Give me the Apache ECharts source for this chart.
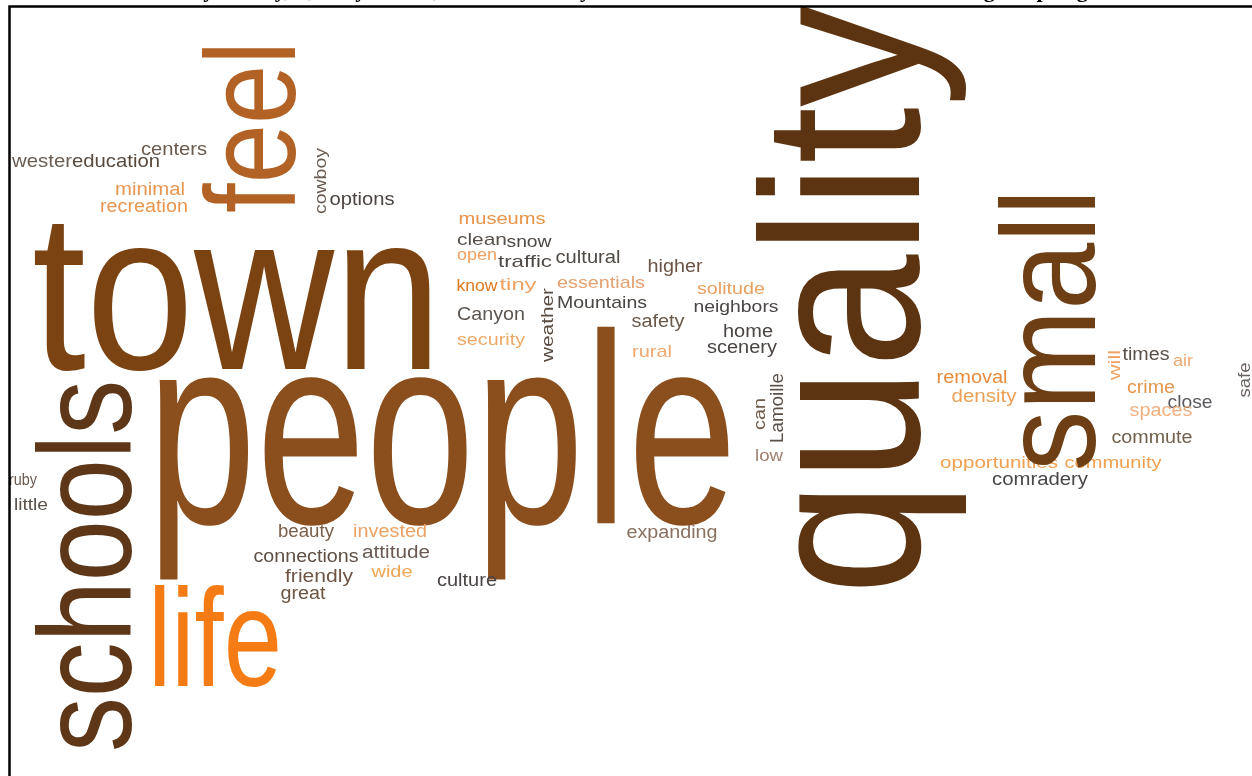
<!DOCTYPE html>
<html><head><meta charset="utf-8">
<script src="https://cdn.jsdelivr.net/npm/echarts@6/dist/echarts.min.js"></script>
<style>html,body{margin:0;padding:0;background:#fff}#c{width:1252px;height:776px}</style>
</head><body><div id="c"></div>
<script>
// ---- data: words and their weights (font size) ----
const words = ['town','people','life','wester','education','centers','minimal','recreation','options','museums',
  'clean','snow','open','traffic','cultural','know','tiny','essentials','higher','solitude',
  'Mountains','Canyon','neighbors','safety','home','security','rural','scenery','low','removal',
  'density','times','air','crime','close','spaces','commute','opportunities','community','comradery',
  'expanding','ruby','little','beauty','invested','connections','attitude','friendly','wide','culture','great',
  'quality','small','schools','feel','cowboy','weather','can','Lamoille','will','safe'];
const weights = [225,271,140,19,19,19,18,18,18,17,
  17,17,17,17,18,17,17,17,18,17,
  17,19,17,18,18,17,17,18,17,18,
  18,18,17,18,19,18,18,17,17,18,
  18,17,17,18,18,18,18,18,17,18,18,
  225,134,132,128,17,17,17,18,16,17];

// ---- layout of the cloud (word anchor = centre along the text, on the baseline) ----
const posX = [237,442,215,42,116,174,150,144,362,502,
  482,529,477,525,588,477,518,601,675,731,
  602,491,736,658,748,491,652,742,769,972,
  984,1146,1183,1151,1190,1161,1152,999,1113,1040,
  672,23,31,306,390,306,396,319,392,467,303,
  922,1097,133,297,326,553,765,783,1120,1250];
const posY = [372,527,688,167,167,155,195,212,205,224,
  245,247,260,267,263,291,290,288,272,294,
  308,320,312,327,337,345,357,353,461,383,
  402,360,366,393,408,416,443,468,468,485,
  538,485,510,537,537,562,558,582,577,586,599,
  300,330,566,127,181,325,414,408,365,380];
const spans = [410,590,134,60,88,66,70,88,65,87,
  50,45,40,54,65,41,37,88,55,68,
  90,68,85,53,50,68,40,70,28,71,
  65,47,20,48,45,63,81,118,97,96,
  91,28,34,56,74,105,68,68,41,60,45,
  590,282,372,172,66,74,32,70,30,35];
const vertical = words.map((w,i)=> i >= 51);
const colors = ['#7b4311','#8b4f1e','#f57c14','#6b5d52','#5a4a3e','#6b5a4c','#e8954f','#e8954f','#4c4440','#e8934a',
  '#575049','#4e4844','#f0a060','#4e4844','#4f4a44','#e07820','#f0a060','#e6a070','#6b5445','#e8a060',
  '#4a4642','#5d5650','#4a4645','#6a5848','#4a4442','#eda868','#f0a870','#4a4442','#a08070','#e58b3c',
  '#eba055','#5a5048','#eea870','#e5964c','#5a5a60','#f0b080','#73604c','#f0a050','#f0a050','#4a4646',
  '#8a7060','#6a5a50','#5a5048','#7a5e48','#eba264','#5e4e44','#6a5a52','#6e5444','#f0a658','#4a4444','#6b5440',
  '#5d3412','#6e3e14','#5e3718','#b26224','#6a5a50','#5a4a40','#6e5a4a','#5a5048','#f0a060','#6a6060'];

const TITLE = 'Community Survey, Quality of Life, Lamoille Valley: What Residents Value Most About Living in Spring Creek';
const FONT = '"Liberation Sans", Arial, sans-serif';
const mctx = document.createElement('canvas').getContext('2d');

const chart = echarts.init(document.getElementById('c'), null, {renderer:'canvas'});
chart.setOption({
  animation: false,
  backgroundColor: '#fff',
  title: {text: TITLE, left: 'center', top: -25,
    textStyle: {fontFamily: '"Liberation Serif", serif', fontWeight: 'bold', fontSize: 22, color: '#000'}},
  grid: {left: 0, right: 0, top: 0, bottom: 0},
  xAxis: {type: 'value', min: 0, max: 1252, show: false},
  yAxis: {type: 'value', min: 0, max: 776, inverse: true, show: false},
  graphic: [{type: 'rect', shape: {x: 9.5, y: 6.5, width: 1300, height: 900},
    style: {fill: null, stroke: '#000', lineWidth: 2.5}, z: 100}],
  series: [{
    type: 'custom', clip: false,
    data: words.map((w, i) => [posX[i], posY[i], i]),
    encode: {x: 0, y: 1},
    renderItem: function (params, api) {
      const i = api.value(2);
      const p = api.coord([api.value(0), api.value(1)]);
      const size = weights[i];
      mctx.font = size + 'px ' + FONT;
      const nat = mctx.measureText(words[i]).width;
      const sx = spans[i] / nat;
      const off = 0.29 * size;
      const v = vertical[i];
      return {
        type: 'text',
        x: v ? p[0] - off : p[0],
        y: v ? p[1] : p[1] - off,
        rotation: v ? Math.PI / 2 : 0,
        scaleX: sx,
        style: {text: words[i], fontSize: size, fontFamily: FONT, fill: colors[i],
          align: 'center', verticalAlign: 'middle'}
      };
    }
  }]
});
</script></body></html>
